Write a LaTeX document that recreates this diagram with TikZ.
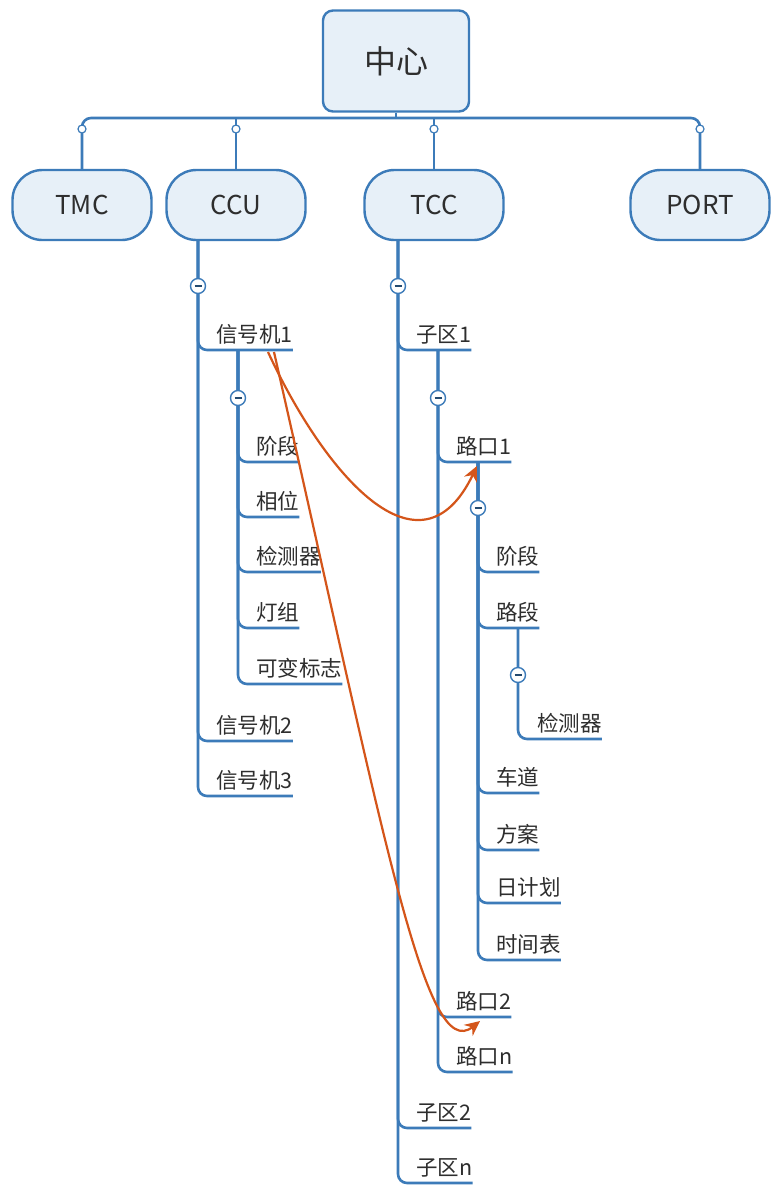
\documentclass[tikz,border=0pt]{standalone}
\usepackage{fontspec}
\setmainfont{Noto Sans CJK SC}
\usetikzlibrary{arrows.meta}
\definecolor{bl}{HTML}{3C7BB9}
\definecolor{blfill}{HTML}{E7F0F8}
\definecolor{txt}{HTML}{2E2E2E}
\definecolor{og}{HTML}{D4551A}
\tikzset{
  br/.style={draw=bl,line width=2.6pt,rounded corners=9pt},
  topbox/.style={draw=bl,fill=blfill,line width=2.4pt,rounded corners=30pt,minimum width=139pt,minimum height=70pt,font=\fontsize{26}{28}\selectfont,text=txt},
  rootbox/.style={draw=bl,fill=blfill,line width=2.4pt,rounded corners=10pt,minimum width=146pt,minimum height=101pt,font=\fontsize{32}{34}\selectfont,text=txt},
  lbl/.style={anchor=south west,inner xsep=0pt,inner ysep=6pt,font=\fontsize{21.5}{23}\selectfont,text=txt},
  tog/.style={circle,draw=bl,fill=white,line width=1.4pt,minimum size=15pt,inner sep=0pt,
    path picture={\draw[bl!60!black,line width=1.6pt] ([xshift=-3.5pt]path picture bounding box.center) -- ([xshift=3.5pt]path picture bounding box.center);}},
  dot/.style={circle,draw=bl,fill=white,line width=1.2pt,minimum size=8pt,inner sep=0pt},
  rel/.style={draw=og,line width=2.2pt,-{Stealth[length=15pt,width=14pt]}},
}
\begin{document}
\begin{tikzpicture}[x=1pt,y=-1pt]
\useasboundingbox[fill=white] (0,0) rectangle (772,1187);
% root and top level
\node[rootbox] (root) at (396,61) {中心};
\node[topbox] (tmc) at (82,205) {TMC};
\node[topbox] (ccu) at (236,205) {CCU};
\node[topbox] (tcc) at (434,205) {TCC};
\node[topbox] (port) at (700,205) {PORT};
\coordinate (bar) at (396,118);
\draw[br] (tmc.north) |- (bar) -| (port.north);
\draw[br] (root.south) -- (bar);
\draw[br] (ccu.north) -- (ccu.north |- bar);
\draw[br] (tcc.north) -- (tcc.north |- bar);
\node[dot] (d1) at (tmc.north |- 0,129) {};
\node[dot] (d2) at (ccu.north |- 0,129) {};
\node[dot] (d3) at (tcc.north |- 0,129) {};
\node[dot] (d4) at (port.north |- 0,129) {};

% ---------- CCU branch
\coordinate (ccuv) at (198,240);
\node[lbl] (s1) at (216,350) {信号机1\hspace{10pt}};
\node[lbl] (s2) at (216,741) {信号机2\hspace{10pt}};
\node[lbl] (s3) at (216,796) {信号机3\hspace{10pt}};
\draw[br] (ccuv) |- (s1.south east);
\draw[br] (ccuv) |- (s2.south east);
\draw[br] (ccuv) |- (s3.south east);
\node[tog] (t1) at (198,286) {};

\coordinate (s1v) at (238,350);
\node[lbl] (a1) at (256,462) {阶段\hspace{8pt}};
\node[lbl] (a2) at (256,517) {相位\hspace{6pt}};
\node[lbl] (a3) at (256,572) {检测器\hspace{8pt}};
\node[lbl] (a4) at (256,628) {灯组\hspace{8pt}};
\node[lbl] (a5) at (256,684) {可变标志\hspace{9pt}};
\foreach \n in {a1,a2,a3,a4,a5} \draw[br] (s1v) |- (\n.south east);
\node[tog] (t2) at (238,398) {};

% ---------- TCC branch
\coordinate (tccv) at (398,240);
\node[lbl] (z1) at (416,350) {子区1\hspace{10pt}};
\node[lbl] (z2) at (416,1128) {子区2\hspace{10pt}};
\node[lbl] (z3) at (416,1183) {子区n\hspace{10pt}};
\foreach \n in {z1,z2,z3} \draw[br] (tccv) |- (\n.south east);
\node[tog] (t3) at (398,286) {};

\coordinate (z1v) at (438,350);
\node[lbl] (r1) at (456,462) {路口1\hspace{12pt}};
\node[lbl] (r2) at (456,1017) {路口2\hspace{12pt}};
\node[lbl] (r3) at (456,1072) {路口n\hspace{12pt}};
\foreach \n in {r1,r2,r3} \draw[br] (z1v) |- (\n.south east);
\node[tog] (t4) at (438,398) {};

\coordinate (r1v) at (478,462);
\node[lbl] (b1) at (496,572) {阶段\hspace{11pt}};
\node[lbl] (b2) at (496,628) {路段\hspace{11pt}};
\node[lbl] (b3) at (496,793) {车道\hspace{11pt}};
\node[lbl] (b4) at (496,850) {方案\hspace{11pt}};
\node[lbl] (b5) at (496,903) {日计划\hspace{11pt}};
\node[lbl] (b6) at (496,960) {时间表\hspace{11pt}};
\foreach \n in {b1,b2,b3,b4,b5,b6} \draw[br] (r1v) |- (\n.south east);
\node[tog] (t5) at (478,508) {};

\coordinate (b2v) at (518,628);
\node[lbl] (c1) at (537,739) {检测器\hspace{12pt}};
\draw[br] (b2v) |- (c1.south east);
\node[tog] (t6) at (518,675) {};

% ---------- relations
\coordinate (o1) at (268,352);
\coordinate (o2) at (274,352);
\draw[rel] (o1) .. controls (325,475) and (420,585) .. (477,466);
\draw[rel] (o2) .. controls (385,840) and (425,1065) .. (480,1021);
\end{tikzpicture}
\end{document}
